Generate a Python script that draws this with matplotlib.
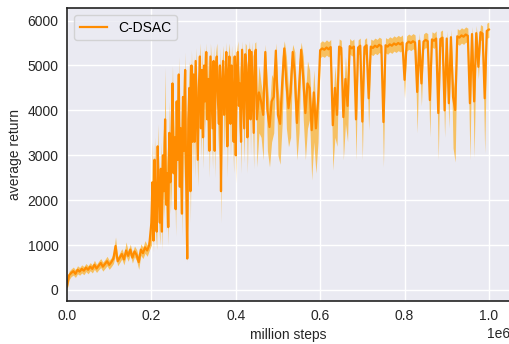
import matplotlib
matplotlib.use("Agg")
import matplotlib.pyplot as plt

# x positions (environment steps) for each segment of the logged curve
steps_a = list(range(0, 200000, 5000))          # 40 points
steps_bc = list(range(200000, 450000, 2500))    # 100 points
steps_d = list(range(450000, 1000001, 5000))    # 111 points

mean_a = [80, 330, 380, 420, 360, 450, 410, 470, 430, 500,
          450, 520, 470, 560, 480, 540, 600, 520, 580, 640,
          560, 620, 700, 980, 640, 720, 800, 680, 880, 760,
          900, 720, 860, 780, 620, 900, 820, 950, 880, 1000]
low_a = [0, 230, 300, 330, 280, 360, 330, 380, 340, 410,
         360, 430, 380, 460, 390, 450, 500, 420, 480, 540,
         460, 520, 590, 780, 540, 610, 690, 560, 760, 640,
         780, 600, 740, 650, 460, 770, 700, 820, 750, 880]
high_a = [200, 420, 470, 510, 450, 540, 500, 560, 520, 590,
          540, 610, 560, 660, 570, 640, 700, 620, 680, 750,
          660, 720, 810, 1180, 740, 830, 920, 790, 1070, 870,
          1020, 830, 980, 900, 740, 1030, 950, 1100, 1000, 1150]

mean_bc = [1500, 2400, 1100, 2900, 1800, 1300, 3200, 2100, 1500, 2700,
           1300, 3000, 2200, 3800, 1900, 2600, 1400, 3500, 2400, 3000,
           4600, 2600, 3400, 1800, 4200, 2900, 4800, 2300, 3600, 1700,
           4300, 3100, 4900, 2400, 700, 3800, 4500, 2200, 5000, 3300,
           4800, 3300, 5100, 4000, 2900, 4500, 5200, 3600, 4900, 3400,
           5000, 4200, 5300, 3800, 4700, 3100, 5200, 4400, 3600, 5100,
           3100, 4900, 5200, 4300, 3700, 5000, 2200, 4600, 5100, 3900,
           4400, 5300, 3200, 4800, 5200, 3700, 5000, 4200, 3300, 5200,
           3000, 4900, 5300, 4100, 4600, 3300, 5350, 4500, 3600, 5250,
           5000, 3400, 4700, 5350, 3800, 5300, 4400, 3500, 5200, 5350]
low_bc = [1000, 1800, 850, 2300, 1300, 900, 2500, 1500, 1000, 2100,
          900, 2300, 1600, 3100, 1300, 2000, 1000, 2800, 1700, 2300,
          3900, 1900, 2700, 1200, 3500, 2200, 4100, 1600, 2900, 1200,
          3600, 2400, 4200, 1700, 620, 3100, 3800, 1500, 4300, 2600,
          4100, 2500, 4500, 3300, 2300, 3800, 4700, 2900, 4300, 2700,
          4400, 3500, 4800, 3000, 4100, 2500, 4600, 3700, 2700, 4500,
          2500, 4300, 4700, 3500, 2900, 4400, 1490, 3900, 4500, 3100,
          3700, 4900, 2500, 4100, 4700, 2900, 4400, 3500, 2600, 4700,
          2380, 4300, 4900, 3400, 3900, 2600, 5000, 3800, 2830, 4800,
          4400, 2600, 4000, 5000, 3000, 4900, 3700, 2700, 4700, 5050]
high_bc = [2100, 3300, 1700, 3400, 2400, 1900, 3700, 2700, 2100, 3300,
           1900, 3600, 2900, 4960, 2500, 3200, 2000, 4200, 3100, 3700,
           5000, 3300, 4100, 2400, 4800, 3600, 5200, 3000, 4300, 2300,
           4900, 3800, 5300, 3100, 1300, 4500, 5100, 2900, 5350, 4000,
           5200, 4000, 5400, 4600, 3600, 5000, 5500, 4200, 5350, 4100,
           5400, 4800, 5500, 4400, 5200, 3800, 5500, 5000, 4300, 5450,
           3800, 5300, 5500, 4900, 4400, 5400, 3000, 5100, 5450, 4500,
           5000, 5520, 3900, 5300, 5500, 4400, 5450, 4800, 4000, 5500,
           3700, 5350, 5550, 4700, 5100, 4000, 5550, 5000, 4300, 5500,
           5450, 4100, 5200, 5550, 4500, 5520, 5000, 4200, 5500, 5530]

mean_d = [3800, 4400, 4200, 3900, 5300, 4000, 3630, 4200, 4300, 5330,
          3900, 3700, 4600, 5380, 4600, 4050, 4400, 5300, 4800, 3720,
          4500, 5350, 4700, 3940, 4600, 4500, 3560, 4400, 3600, 4200,
          5340, 5380, 5350, 5400, 5360, 5410, 3670, 4500, 3900, 5420,
          5390, 3850, 4700, 4100, 5430, 5380, 5420, 3800, 5400, 5440,
          3750, 5410, 5450, 4270, 5420, 5390, 5440, 5410, 5460, 5430,
          3740, 5450, 5420, 5470, 5440, 5490, 5460, 5500, 5470, 5510,
          4680, 5490, 5530, 5500, 5540, 5510, 4410, 5550, 4600, 5530,
          5570, 5540, 4230, 5580, 5550, 5600, 3940, 5590, 5620, 4000,
          5600, 4160, 5630, 4300, 4010, 5650, 5620, 5670, 5640, 5690,
          5660, 4160, 5700, 4200, 5720, 4970, 5740, 5710, 4270, 5770,
          5800]
low_d = [2740, 3500, 3400, 2900, 5130, 3100, 2740, 3300, 3500, 5160,
         3000, 2800, 3700, 5210, 3600, 3190, 3400, 5130, 3900, 2900,
         3500, 5180, 3800, 2900, 3600, 3800, 2450, 3300, 2600, 3300,
         5170, 5210, 5180, 5230, 5190, 5240, 2670, 3400, 3200, 5250,
         5220, 2900, 3700, 3300, 5260, 5210, 5250, 2900, 5230, 5270,
         2900, 5240, 5280, 3560, 5250, 5220, 5270, 5240, 5290, 5260,
         2740, 5280, 5250, 5300, 5270, 5320, 5290, 5330, 5300, 5340,
         4270, 5320, 5360, 5330, 5370, 5340, 3500, 5380, 4100, 5360,
         5400, 5370, 3410, 5410, 5380, 5430, 2900, 5420, 5450, 3400,
         5430, 3600, 5460, 3160, 2850, 5480, 5450, 5500, 5470, 5520,
         5490, 2900, 5530, 2950, 5550, 4700, 5570, 5540, 3050, 5600,
         5630]
high_d = [4200, 5000, 4600, 4300, 5470, 4600, 4030, 4800, 4700, 5500,
          4500, 4100, 5200, 5550, 5200, 4450, 5000, 5470, 5300, 4120,
          5100, 5520, 5200, 4340, 5100, 4900, 3960, 4900, 4000, 4600,
          5510, 5550, 5520, 5570, 5530, 5580, 4070, 5000, 4300, 5590,
          5560, 4250, 5200, 4500, 5600, 5550, 5590, 4200, 5570, 5610,
          4150, 5580, 5620, 4670, 5590, 5560, 5610, 5580, 5630, 5600,
          4140, 5620, 5590, 5640, 5610, 5660, 5630, 5670, 5640, 5680,
          5080, 5660, 5700, 5670, 5710, 5680, 4810, 5720, 5000, 5700,
          5740, 5710, 4630, 5750, 5720, 5770, 4340, 5760, 5790, 4400,
          5770, 4560, 5800, 4700, 4410, 5820, 5790, 5840, 5810, 5860,
          5830, 4560, 5870, 4600, 5890, 5370, 5910, 5880, 4670, 5940,
          5970]

steps = steps_a + steps_bc + steps_d
mean_ret = mean_a + mean_bc + mean_d
low_ret = low_a + low_bc + low_d
high_ret = high_a + high_bc + high_d

label = "C-DSAC"
xlabel = "million steps"
ylabel = "average return"

plt.rcParams['font.family'] = ['Liberation Sans', 'DejaVu Sans']

fig = plt.figure(figsize=(5.09, 3.44), dpi=100)
ax = fig.add_axes([67/509, 43/344, 443/509, 293/344])
ax.set_facecolor('#EAEAF2')
ax.grid(True, color='white', linewidth=1.0)
ax.set_axisbelow(True)
for side in ['left', 'bottom', 'top']:
    ax.spines[side].set_color('#222222')
    ax.spines[side].set_linewidth(1.2)
ax.spines['right'].set_visible(False)

ax.fill_between(steps, low_ret, high_ret, color='#FFA500', alpha=0.6, linewidth=0)
ax.plot(steps, mean_ret, color='#FF8C00', linewidth=1.6, label=label)

ax.set_xlim(0, 1.05e6)
ax.set_ylim(-245, 6280)
ax.set_xticks([0, 2e5, 4e5, 6e5, 8e5, 1e6])
ax.set_yticks([0, 1000, 2000, 3000, 4000, 5000, 6000])
ax.tick_params(axis='both', length=0, labelsize=10, colors='#262626', pad=6)
ax.set_xlabel(xlabel, fontsize=10, color='#262626', labelpad=3)
ax.set_ylabel(ylabel, fontsize=10, color='#262626', labelpad=4)
ax.xaxis.get_offset_text().set_fontsize(10)
ax.xaxis.get_offset_text().set_color('#262626')

leg = ax.legend(loc='upper left', fontsize=10, frameon=True, fancybox=True,
                facecolor='#EAEAF2', edgecolor='#CCCCCC', framealpha=0.8,
                handlelength=2.0, borderaxespad=0.5)

fig.savefig('out.png', dpi=100)
